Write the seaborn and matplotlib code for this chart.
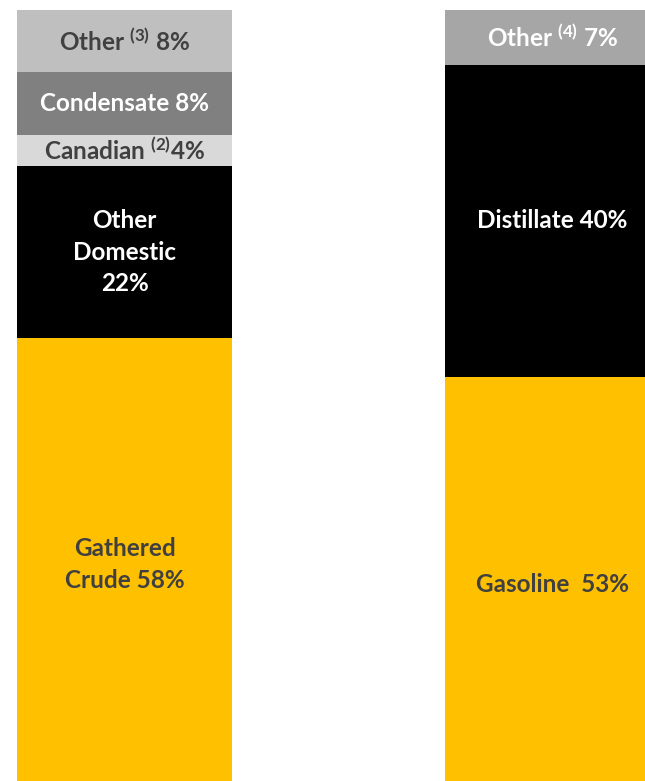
import matplotlib
matplotlib.use("Agg")
import matplotlib.pyplot as plt
import seaborn as sns
import numpy as np

# Crude supply mix (bottom to top)
supply_labels = ["Gathered\nCrude 58%", "Other\nDomestic\n22%", "Canadian $^{(2)}$4%",
                 "Condensate 8%", "Other $^{(3)}$ 8%"]
supply_values = [58, 22, 4, 8, 8]
supply_colors = ["#FFC000", "#000000", "#D9D9D9", "#808080", "#BFBFBF"]
supply_text = ["#404040", "#FFFFFF", "#404040", "#FFFFFF", "#404040"]

# Product yield mix (bottom to top)
product_labels = ["Gasoline  53%", "Distillate 40%", "Other $^{(4)}$ 7%"]
product_values = [53, 40, 7]
product_colors = ["#FFC000", "#000000", "#A6A6A6"]
product_text = ["#404040", "#FFFFFF", "#FFFFFF"]

categories = ["Supply", "Products"]

sns.set_theme(style="white")
plt.rcParams["font.family"] = ["Lato", "DejaVu Sans"]
plt.rcParams["mathtext.fontset"] = "custom"
plt.rcParams["mathtext.rm"] = "Lato:bold"
plt.rcParams["mathtext.it"] = "Lato:bold"
plt.rcParams["mathtext.bf"] = "Lato:bold"
plt.rcParams["mathtext.default"] = "rm"

fig = plt.figure(figsize=(6.45, 7.81), dpi=100)
ax = fig.add_axes([0, 0, 1, 1])

bar_w = 0.502


def stacked(cat, values, colors, labels, tcolors):
    cum = np.cumsum(values)
    # draw cumulative totals from the top down so lower segments overlay
    for i in range(len(values) - 1, -1, -1):
        sns.barplot(x=[cat], y=[cum[i]], order=categories, color=colors[i],
                    width=bar_w, saturation=1, ax=ax, linewidth=0)
    xpos = categories.index(cat)
    bottoms = cum - np.array(values)
    for i, lab in enumerate(labels):
        ax.text(xpos, bottoms[i] + values[i] / 2, lab, ha="center", va="center",
                color=tcolors[i], fontsize=17.5, fontweight="bold",
                linespacing=1.45)


stacked("Supply", supply_values, supply_colors, supply_labels, supply_text)
stacked("Products", product_values, product_colors, product_labels, product_text)

# bars run past the lower edge of the figure
ax.set_xlim(-0.291, 1.216)
ax.set_ylim(1.28, 101.28)
ax.axis("off")

fig.savefig("out.png", dpi=100)
